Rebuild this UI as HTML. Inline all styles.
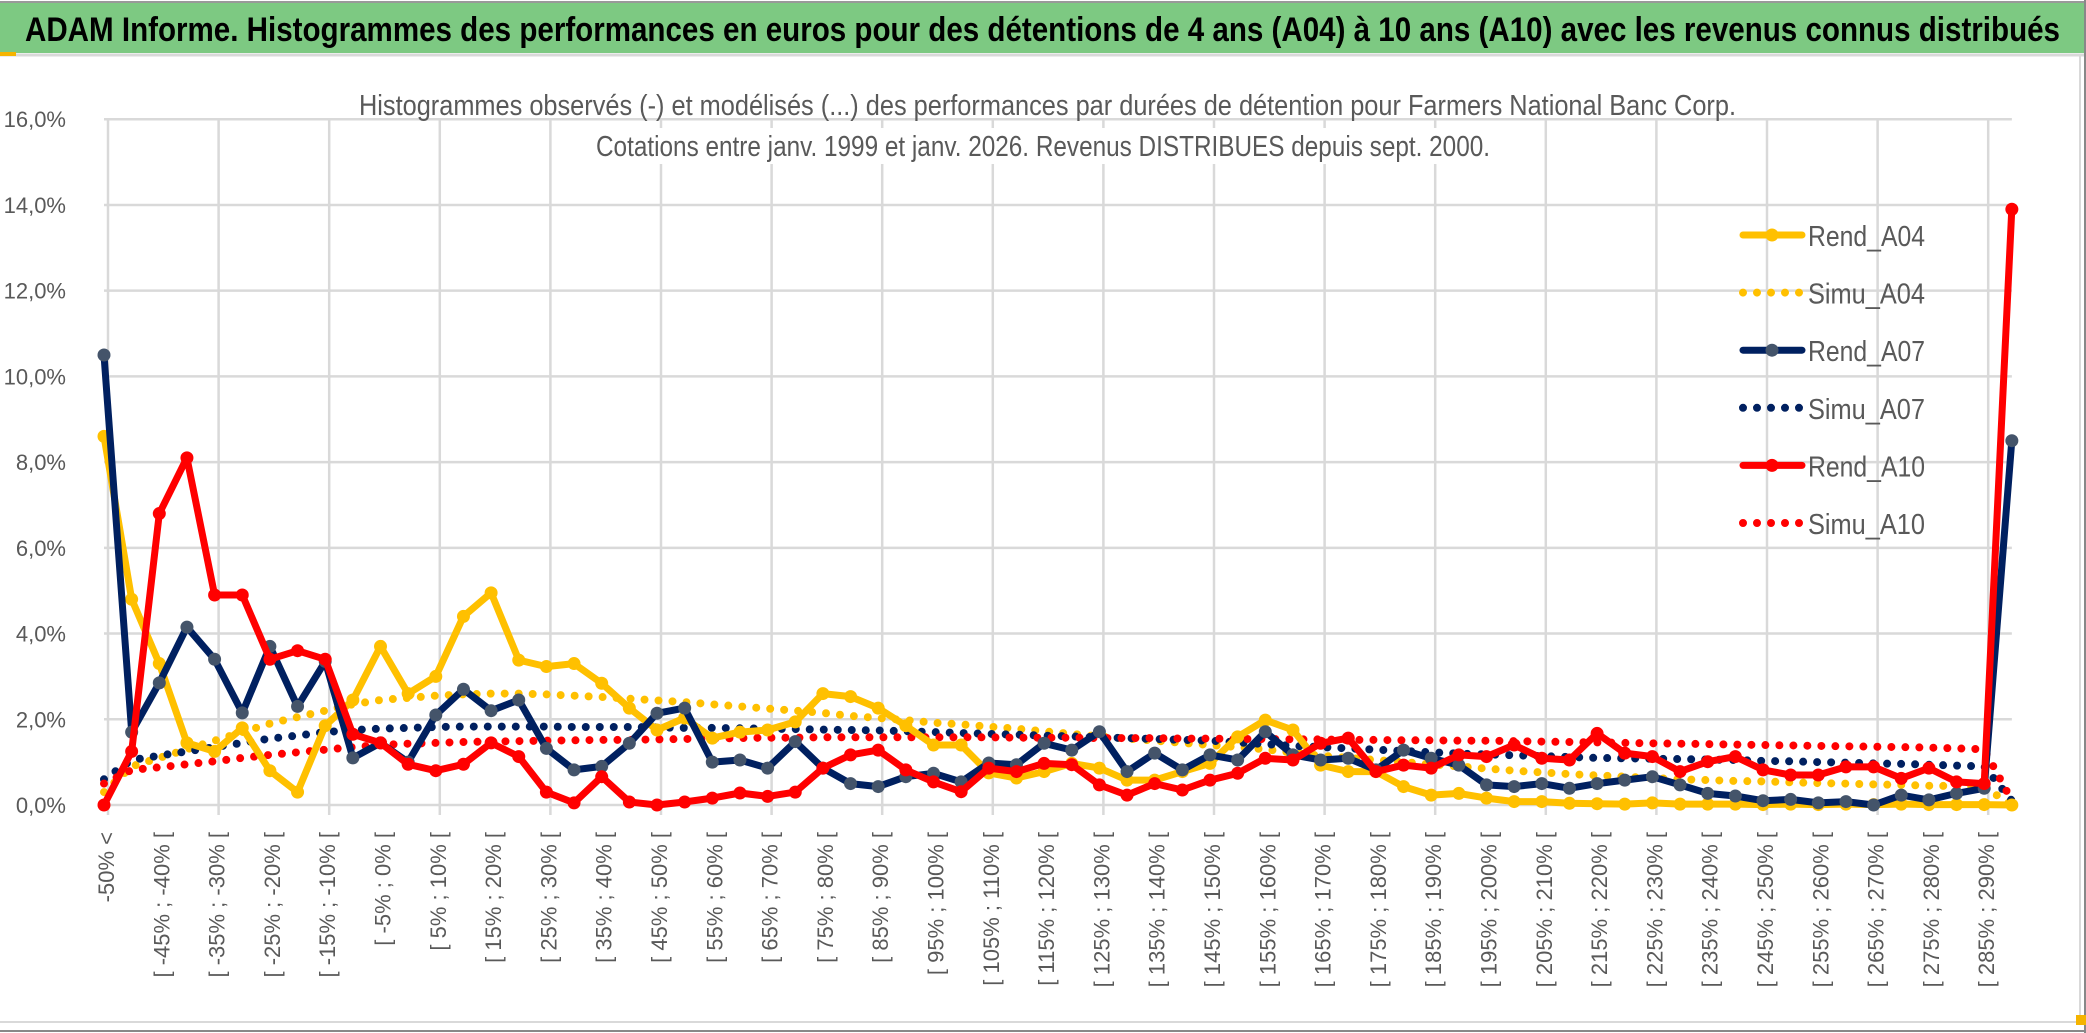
<!DOCTYPE html>
<html><head><meta charset="utf-8"><style>
html,body{margin:0;padding:0;background:#fff;}
svg{display:block;font-family:"Liberation Sans",sans-serif;}
</style></head><body>
<svg id="chart" width="2086" height="1033" viewBox="0 0 2086 1033" xmlns="http://www.w3.org/2000/svg">
<rect x="0" y="0" width="2086" height="1033" fill="#fff"/>
<rect x="0" y="3" width="2086" height="50" fill="#7dc982"/>
<line x1="0" y1="2" x2="2086" y2="2" stroke="#999" stroke-width="2"/>
<line x1="0" y1="55" x2="2086" y2="55" stroke="#d9d9d9" stroke-width="3"/>
<rect x="0" y="52" width="16" height="4" fill="#f5b400"/>
<text x="25" y="41" font-size="34" font-weight="bold" fill="#000" textLength="2035" lengthAdjust="spacingAndGlyphs">ADAM Informe. Histogrammes des performances en euros pour des détentions de 4 ans (A04) à 10 ans (A10) avec les revenus connus distribués</text>
<line x1="0" y1="1022" x2="2080" y2="1022" stroke="#d9d9d9" stroke-width="2"/>
<line x1="0" y1="1031" x2="2086" y2="1031" stroke="#888" stroke-width="2"/>
<line x1="2080" y1="56" x2="2080" y2="1022" stroke="#d9d9d9" stroke-width="2"/>
<line x1="2085" y1="0" x2="2085" y2="1033" stroke="#888" stroke-width="2"/>
<rect x="2076" y="1015" width="10" height="10" fill="#f5b400"/>
<g id="grid"></g>
<rect x="590" y="128" width="906" height="36" fill="#fff"/>
<text x="359" y="115" font-size="29" fill="#595959" textLength="1377" lengthAdjust="spacingAndGlyphs">Histogrammes observés (-) et modélisés (...) des performances par durées de détention pour Farmers National Banc Corp.</text>
<text x="596" y="156" font-size="29" fill="#595959" textLength="894" lengthAdjust="spacingAndGlyphs">Cotations entre janv. 1999 et janv. 2026. Revenus DISTRIBUES depuis sept. 2000.</text>
<g id="yticks"></g>
<g id="xticks"></g>
<g id="series"></g>
<g id="legend"></g>
</svg>
<script>
const categories = ["-50% <","[ -50% ; -45% [","[ -45% ; -40% [","[ -40% ; -35% [","[ -35% ; -30% [","[ -30% ; -25% [","[ -25% ; -20% [","[ -20% ; -15% [","[ -15% ; -10% [","[ -10% ; -5% [",
"[ -5% ; 0% [","[ 0% ; 5% [","[ 5% ; 10% [","[ 10% ; 15% [","[ 15% ; 20% [","[ 20% ; 25% [","[ 25% ; 30% [","[ 30% ; 35% [","[ 35% ; 40% [","[ 40% ; 45% [",
"[ 45% ; 50% [","[ 50% ; 55% [","[ 55% ; 60% [","[ 60% ; 65% [","[ 65% ; 70% [","[ 70% ; 75% [","[ 75% ; 80% [","[ 80% ; 85% [","[ 85% ; 90% [","[ 90% ; 95% [",
"[ 95% ; 100% [","[ 100% ; 105% [","[ 105% ; 110% [","[ 110% ; 115% [","[ 115% ; 120% [","[ 120% ; 125% [","[ 125% ; 130% [","[ 130% ; 135% [","[ 135% ; 140% [","[ 140% ; 145% [",
"[ 145% ; 150% [","[ 150% ; 155% [","[ 155% ; 160% [","[ 160% ; 165% [","[ 165% ; 170% [","[ 170% ; 175% [","[ 175% ; 180% [","[ 180% ; 185% [","[ 185% ; 190% [","[ 190% ; 195% [",
"[ 195% ; 200% [","[ 200% ; 205% [","[ 205% ; 210% [","[ 210% ; 215% [","[ 215% ; 220% [","[ 220% ; 225% [","[ 225% ; 230% [","[ 230% ; 235% [","[ 235% ; 240% [","[ 240% ; 245% [",
"[ 245% ; 250% [","[ 250% ; 255% [","[ 255% ; 260% [","[ 260% ; 265% [","[ 265% ; 270% [","[ 270% ; 275% [","[ 275% ; 280% [","[ 280% ; 285% [","[ 285% ; 290% [","> 290%"];
const yTicks = [0,2,4,6,8,10,12,14,16];
const yTickLabels = ["0,0%","2,0%","4,0%","6,0%","8,0%","10,0%","12,0%","14,0%","16,0%"];
const rendA04 = [8.6,4.8,3.3,1.45,1.25,1.8,0.8,0.3,1.85,2.45, 3.7,2.6,3.0,4.4,4.95,3.38,3.23,3.3,2.84,2.26, 1.75,2.03,1.56,1.7,1.75,1.94,2.6,2.53,2.26,1.85, 1.4,1.4,0.75,0.63,0.78,0.97,0.86,0.58,0.58,0.78, 0.97,1.59,1.98,1.75,0.93,0.78,0.78,0.43,0.23,0.27, 0.16,0.08,0.08,0.04,0.03,0.02,0.05,0.02,0.02,0.02, 0.01,0.02,0.01,0.02,0.01,0.02,0.01,0.01,0.01,0];
const simuA04 = [0.3,0.9,1.1,1.3,1.5,1.7,1.9,2.05,2.2,2.35, 2.45,2.5,2.55,2.58,2.6,2.6,2.58,2.55,2.52,2.48, 2.44,2.4,2.35,2.3,2.25,2.2,2.15,2.08,2.03,1.98, 1.92,1.88,1.83,1.78,1.72,1.66,1.6,1.55,1.5,1.45, 1.4,1.35,1.3,1.22,1.15,1.1,1.05,1.0,0.95,0.9, 0.85,0.8,0.76,0.72,0.69,0.66,0.63,0.6,0.58,0.56, 0.55,0.53,0.51,0.5,0.48,0.47,0.45,0.44,0.42,0.0];
const rendA07 = [10.5,1.7,2.85,4.15,3.4,2.15,3.7,2.3,3.35,1.1, 1.45,1.0,2.1,2.7,2.2,2.45,1.32,0.82,0.9,1.44, 2.14,2.26,1.0,1.05,0.86,1.48,0.86,0.5,0.43,0.66, 0.74,0.54,0.98,0.94,1.44,1.28,1.71,0.78,1.21,0.82, 1.17,1.05,1.71,1.17,1.05,1.09,0.82,1.28,1.09,0.93, 0.47,0.43,0.5,0.39,0.5,0.58,0.66,0.47,0.27,0.21, 0.1,0.13,0.05,0.08,0.0,0.23,0.12,0.27,0.39,8.5];
const simuA07 = [0.6,1.05,1.15,1.25,1.35,1.45,1.55,1.62,1.7,1.75, 1.78,1.8,1.82,1.83,1.83,1.83,1.83,1.82,1.82,1.82, 1.81,1.8,1.8,1.79,1.78,1.77,1.76,1.75,1.74,1.72, 1.7,1.68,1.66,1.64,1.62,1.6,1.58,1.56,1.54,1.52, 1.5,1.46,1.42,1.38,1.35,1.32,1.29,1.26,1.23,1.2, 1.18,1.16,1.14,1.12,1.1,1.09,1.08,1.07,1.06,1.05, 1.03,1.02,1.0,0.99,0.97,0.96,0.94,0.92,0.9,0.1];
const rendA10 = [0,1.25,6.8,8.1,4.9,4.9,3.4,3.6,3.4,1.65, 1.45,0.95,0.8,0.95,1.45,1.13,0.3,0.05,0.66,0.07, 0,0.07,0.16,0.28,0.2,0.3,0.86,1.17,1.28,0.82, 0.54,0.31,0.86,0.78,0.97,0.94,0.47,0.23,0.5,0.35, 0.58,0.74,1.09,1.05,1.44,1.56,0.78,0.93,0.86,1.17, 1.13,1.4,1.09,1.05,1.67,1.21,1.13,0.78,1.01,1.13, 0.82,0.7,0.7,0.89,0.89,0.62,0.86,0.54,0.5,13.9];
const simuA10 = [0.5,0.82,0.88,0.95,1.02,1.1,1.17,1.23,1.29,1.35, 1.4,1.43,1.45,1.47,1.48,1.49,1.5,1.51,1.52,1.52, 1.53,1.54,1.55,1.56,1.57,1.57,1.58,1.58,1.58,1.58, 1.58,1.58,1.58,1.57,1.57,1.57,1.56,1.56,1.56,1.55, 1.55,1.54,1.54,1.53,1.53,1.52,1.52,1.51,1.51,1.5, 1.5,1.49,1.48,1.47,1.46,1.45,1.44,1.43,1.42,1.41, 1.4,1.39,1.38,1.37,1.36,1.35,1.34,1.32,1.3,0.1];
const seriesNames = ["Rend_A04","Simu_A04","Rend_A07","Simu_A07","Rend_A10","Simu_A10"];

const NS = "http://www.w3.org/2000/svg";
const X0 = 104, STEP = 27.65, Y0 = 805, PER = 42.86;
const xAt = i => X0 + STEP * i;
const yAt = v => Y0 - PER * v;
function mk(tag, attrs, parent){ const e = document.createElementNS(NS, tag); for (const k in attrs) e.setAttribute(k, attrs[k]); parent.appendChild(e); return e; }

const grid = document.getElementById('grid');
const xEnd = xAt(categories.length - 1);
yTicks.forEach((t, k) => {
  const l = mk('line', {x1: X0, x2: xEnd, y1: yAt(t), y2: yAt(t), stroke: '#d9d9d9', 'stroke-width': 2.5}, grid);
  
  
  const tx = mk('text', {x: 66, y: yAt(t) + 8, 'text-anchor': 'end', 'font-size': 22, fill: '#595959'}, document.getElementById('yticks'));
  tx.textContent = yTickLabels[k];
  
  
});
for (let i = 0; i < categories.length; i += 4) {
  const gx = xAt(i) + 4;
  const l = mk('line', {x1: gx, x2: gx, y1: yAt(16), y2: Y0 + 10, stroke: '#d9d9d9', 'stroke-width': 2.5}, grid);
  
  
}
const xt = document.getElementById('xticks');
categories.forEach((c, i) => {
  if (i % 2 !== 0) return;
  const x = xAt(i) + 10, y = 832;
  const t = mk('text', {x: x, y: y, transform: `rotate(-90 ${x} ${y})`, 'text-anchor': 'end', 'font-size': 22, fill: '#595959'}, xt);
  t.textContent = c;
  
  
});

const sg = document.getElementById('series');
function ptsOf(arr){ return arr.map((v, i) => xAt(i).toFixed(1) + ',' + yAt(v).toFixed(1)).join(' '); }
function dotted(arr, color, name){
  const p = mk('polyline', {points: ptsOf(arr), fill: 'none', stroke: color, 'stroke-width': 8, 'stroke-linecap': 'round', 'stroke-dasharray': '0 14'}, sg);
  
  
}
function solid(arr, color, mcolor, name){
  const g = mk('g', {}, sg);
  
  
  mk('polyline', {points: ptsOf(arr), fill: 'none', stroke: color, 'stroke-width': 7, 'stroke-linejoin': 'round'}, g);
  arr.forEach((v, i) => {
    const c = mk('circle', {cx: xAt(i), cy: yAt(v), r: 6.5, fill: mcolor}, g);
    
    
  });
}
dotted(simuA04, '#ffc000', 'simu-a04-line');
dotted(simuA07, '#002060', 'simu-a07-line');
dotted(simuA10, '#ff0000', 'simu-a10-line');
solid(rendA04, '#ffc000', '#ffc000', 'rend-a04-line');
solid(rendA07, '#002060', '#44546a', 'rend-a07-line');
solid(rendA10, '#ff0000', '#ff0000', 'rend-a10-line');

const lg = document.getElementById('legend');
const legColors = ['#ffc000','#ffc000','#002060','#002060','#ff0000','#ff0000'];
const legMark = ['#ffc000',null,'#44546a',null,'#ff0000',null];
seriesNames.forEach((n, k) => {
  const y = 235 + k * 57.6;
  const g = mk('g', {}, lg);
  
  
  if (legMark[k]) {
    mk('line', {x1: 1743, x2: 1802, y1: y, y2: y, stroke: legColors[k], 'stroke-width': 7, 'stroke-linecap': 'round'}, g);
    mk('circle', {cx: 1772, cy: y, r: 6.5, fill: legMark[k]}, g);
  } else {
    mk('line', {x1: 1743, x2: 1802, y1: y, y2: y, stroke: legColors[k], 'stroke-width': 8, 'stroke-linecap': 'round', 'stroke-dasharray': '0 14'}, g);
  }
  const t = mk('text', {x: 1808, y: y + 11, 'font-size': 29, fill: '#595959', textLength: 117, lengthAdjust: 'spacingAndGlyphs'}, g);
  t.textContent = n;
});
</script>
</body></html>
